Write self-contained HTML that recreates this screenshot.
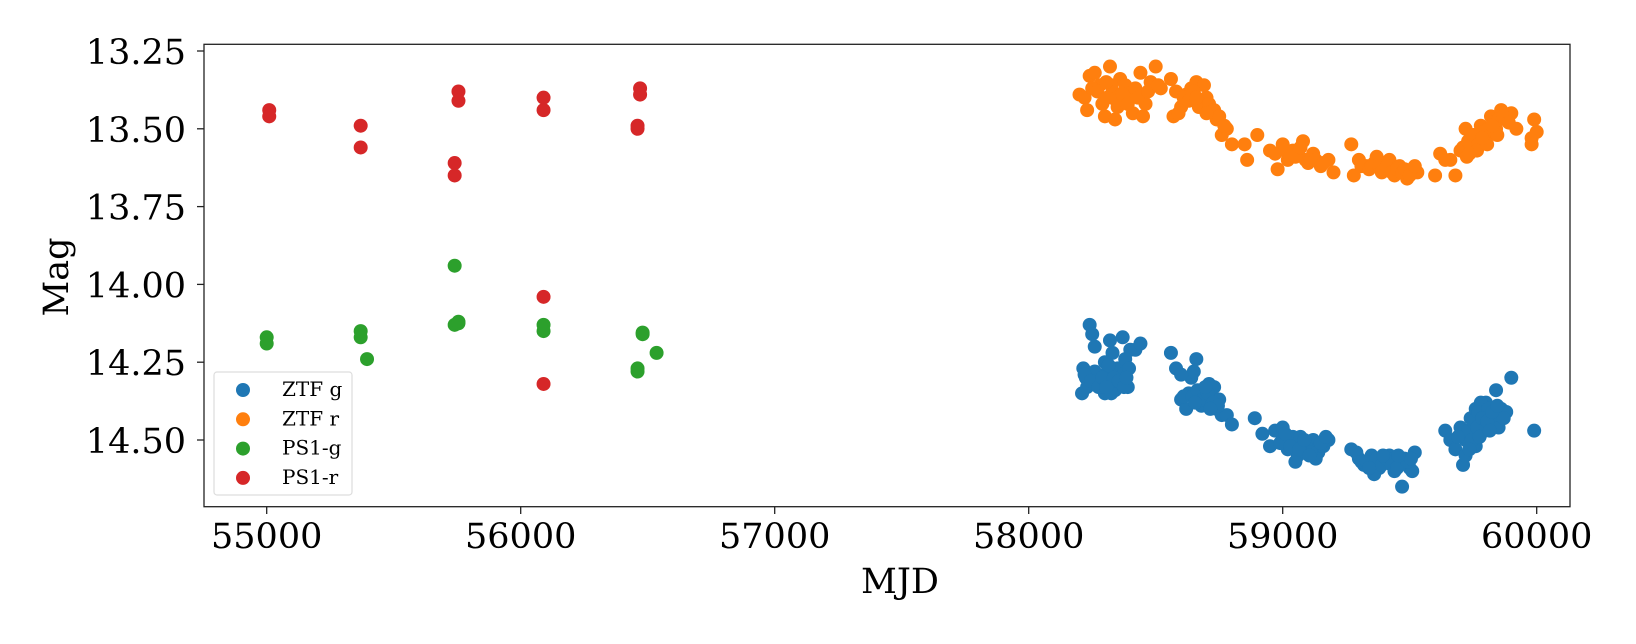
<!DOCTYPE html>
<html><head><meta charset="utf-8"><style>
body{margin:0;background:#fff}
svg text{font-family:"DejaVu Serif","Liberation Serif",serif;fill:#000}
</style></head><body>
<svg width="1636" height="639" xmlns="http://www.w3.org/2000/svg">
<g id="marks"></g>
<rect x="204" y="44.3" width="1366" height="462.4" fill="none" stroke="#222" stroke-width="1.3"/>
<g id="xt"></g>
<g id="yt"></g>
<text x="900" y="593" font-size="35" text-anchor="middle">MJD</text>
<text transform="translate(68,277) rotate(-90)" font-size="35" text-anchor="middle">Mag</text>
<g>
<rect x="214" y="372" width="138" height="123" rx="3" fill="#fff" fill-opacity="0.8" stroke="#ddd" stroke-width="1.2"/>
<g id="leg"></g>
</g>
</svg>
<script>
const ztfgX=[58210,58215,58225,58240,58250,58260,58270,58285,58300,58310,58320,58330,58340,58350,58360,58370,58380,58390,58400,58420,58440,58230,58260,58300,58345,58370,58395,
58220,58245,58275,58290,58315,58335,58355,58375,58385,58325,58305,
58560,58580,58600,58620,58640,58650,58660,58670,58690,58700,58710,58720,58740,58750,58760,58780,58800,58600,58630,58680,58730,58890,
58610,58645,58665,58685,58705,58725,58745,58695,58715,58655,
58920,58950,58970,59000,59020,59040,59060,59080,59100,59120,59140,59160,59180,59050,59130,59000,
58990,59010,59030,59070,59090,59110,59150,59170,59065,59085,59105,
59270,59300,59320,59350,59380,59400,59420,59440,59460,59470,59480,59500,59520,59510,59360,59290,
59310,59330,59370,59390,59410,59430,59450,59490,59505,59340,59395,59455,
59640,59660,59680,59700,59710,59720,59740,59760,59780,59800,59820,59840,59860,59880,59900,59720,59760,59800,59850,59780,59990,
59730,59750,59770,59790,59810,59830,59870,59745,59765,59785,59805,59825,59845,59735,59775,59815,59690];
const ztfgY=[14.35,14.27,14.30,14.13,14.16,14.20,14.29,14.31,14.35,14.28,14.18,14.22,14.34,14.27,14.30,14.17,14.24,14.33,14.21,14.21,14.19,14.33,14.28,14.25,14.32,14.29,14.27,
14.29,14.31,14.33,14.30,14.26,14.30,14.31,14.33,14.30,14.35,14.33,
14.22,14.27,14.37,14.40,14.30,14.28,14.24,14.36,14.34,14.38,14.32,14.36,14.40,14.37,14.42,14.42,14.45,14.29,14.35,14.39,14.33,14.43,
14.36,14.36,14.34,14.37,14.35,14.38,14.39,14.33,14.40,14.38,
14.48,14.52,14.47,14.50,14.53,14.49,14.55,14.51,14.53,14.50,14.54,14.52,14.50,14.57,14.56,14.46,
14.51,14.48,14.52,14.49,14.52,14.54,14.51,14.49,14.53,14.50,14.55,
14.53,14.56,14.58,14.55,14.59,14.57,14.55,14.60,14.57,14.65,14.56,14.59,14.54,14.60,14.61,14.54,
14.57,14.57,14.56,14.58,14.56,14.58,14.59,14.57,14.56,14.59,14.55,14.55,
14.47,14.50,14.53,14.46,14.58,14.55,14.43,14.40,14.48,14.38,14.45,14.34,14.40,14.41,14.30,14.50,14.52,14.42,14.46,14.38,14.47,
14.47,14.44,14.41,14.45,14.40,14.42,14.43,14.50,14.46,14.43,14.44,14.41,14.39,14.53,14.49,14.47,14.49];
const ztfrX=[58200,58220,58240,58260,58280,58290,58300,58320,58330,58340,58350,58360,58380,58400,58410,58420,58440,58460,58480,58500,58520,58450,58350,
58250,58270,58310,58325,58345,58370,58390,58430,58470,58510,58230,58305,
58560,58580,58600,58620,58640,58660,58680,58700,58720,58740,58760,58780,58800,58570,58690,58590,
58610,58630,58650,58670,58710,58730,58750,58770,58660,58700,
58850,58860,58900,58950,59000,59020,59040,59060,59080,59100,59120,59150,59180,59200,58980,59090,
58970,59010,59030,59050,59070,59110,59130,59160,
59270,59280,59300,59330,59360,59400,59420,59440,59460,59490,59510,59530,59370,
59310,59340,59350,59380,59390,59410,59430,59450,59470,59480,59500,59520,
59600,59620,59660,59680,59700,59720,59740,59760,59780,59800,59820,59840,59860,59880,59900,59920,59980,59990,60000,59980,
59710,59730,59750,59770,59790,59810,59830,59850,59870,59890,59725,59765,59805,59845,59735,59785,59825,59640];
const ztfrY=[13.39,13.40,13.33,13.32,13.36,13.42,13.46,13.30,13.38,13.47,13.43,13.34,13.36,13.40,13.45,13.37,13.32,13.42,13.35,13.30,13.37,13.46,13.39,
13.37,13.38,13.40,13.36,13.41,13.39,13.42,13.40,13.38,13.36,13.44,13.35,
13.34,13.38,13.43,13.39,13.37,13.35,13.42,13.40,13.44,13.47,13.52,13.50,13.55,13.46,13.36,13.45,
13.40,13.41,13.38,13.43,13.42,13.44,13.46,13.49,13.40,13.45,
13.55,13.60,13.52,13.57,13.55,13.60,13.57,13.58,13.54,13.61,13.58,13.62,13.60,13.64,13.63,13.60,
13.58,13.57,13.59,13.59,13.56,13.60,13.60,13.61,
13.55,13.65,13.60,13.62,13.61,13.63,13.60,13.65,13.62,13.66,13.63,13.64,13.59,
13.62,13.63,13.62,13.62,13.64,13.62,13.64,13.63,13.64,13.63,13.65,13.62,
13.65,13.58,13.60,13.65,13.57,13.50,13.55,13.52,13.49,13.53,13.46,13.50,13.44,13.47,13.45,13.50,13.53,13.47,13.51,13.55,
13.56,13.54,13.52,13.55,13.51,13.50,13.48,13.47,13.46,13.48,13.59,13.57,13.55,13.52,13.58,13.53,13.49,13.60];
const ps1gX=[55000,55000,55370,55370,55395,55740,55740,55755,55755,56090,56090,56460,56460,56480,56480,56535];
const ps1gY=[14.17,14.19,14.15,14.17,14.24,13.94,14.13,14.12,14.125,14.13,14.15,14.27,14.28,14.155,14.16,14.22];
const ps1rX=[55010,55010,55370,55370,55740,55740,55755,55755,56090,56090,56090,56090,56460,56460,56470,56470];
const ps1rY=[13.44,13.46,13.49,13.56,13.61,13.65,13.38,13.41,13.40,13.44,14.04,14.32,13.49,13.50,13.37,13.39];
const xTicks=[55000,56000,57000,58000,59000,60000];
const yTicks=[13.25,13.50,13.75,14.00,14.25,14.50];
const yTickLabels=["13.25","13.50","13.75","14.00","14.25","14.50"];
const seriesNames=["ZTF g","ZTF r","PS1-g","PS1-r"];
const colors=["#1f77b4","#ff7f0e","#2ca02c","#d62728"];

const NS="http://www.w3.org/2000/svg";
const sx=v=>266.7+(v-55000)*0.254;
const sy=v=>51+(v-13.25)*311.2;
function mk(t,a,p){const e=document.createElementNS(NS,t);for(const k in a)e.setAttribute(k,a[k]);p.appendChild(e);return e;}
const marks=document.getElementById('marks');
[[ztfgX,ztfgY],[ztfrX,ztfrY],[ps1gX,ps1gY],[ps1rX,ps1rY]].forEach((s,i)=>{
  s[0].forEach((x,j)=>{
    const c=mk('circle',{cx:sx(x),cy:sy(s[1][j]),r:7,fill:colors[i]},marks);
    
    
  });
});
const xt=document.getElementById('xt');
xTicks.forEach(v=>{
  const l=mk('line',{x1:sx(v),x2:sx(v),y1:506.7,y2:514,stroke:'#222','stroke-width':1.3},xt);
  
  
  const t=mk('text',{x:sx(v),y:548,'font-size':35,'text-anchor':'middle'},xt);
  t.textContent=v;
  
  
});
const yt=document.getElementById('yt');
yTicks.forEach((v,i)=>{
  const l=mk('line',{x1:197,x2:204,y1:sy(v),y2:sy(v),stroke:'#222','stroke-width':1.3},yt);
  
  
  const t=mk('text',{x:186,y:sy(v)+13,'font-size':35,'text-anchor':'end'},yt);
  t.textContent=yTickLabels[i];
  
  
});
const leg=document.getElementById('leg');
seriesNames.forEach((n,i)=>{
  const y=390+i*29.3;
  const c=mk('circle',{cx:243,cy:y,r:7,fill:colors[i]},leg);
  
  
  const t=mk('text',{x:282,y:y+6,'font-size':20},leg);
  t.textContent=n;
  
  
});
</script>
</body></html>
